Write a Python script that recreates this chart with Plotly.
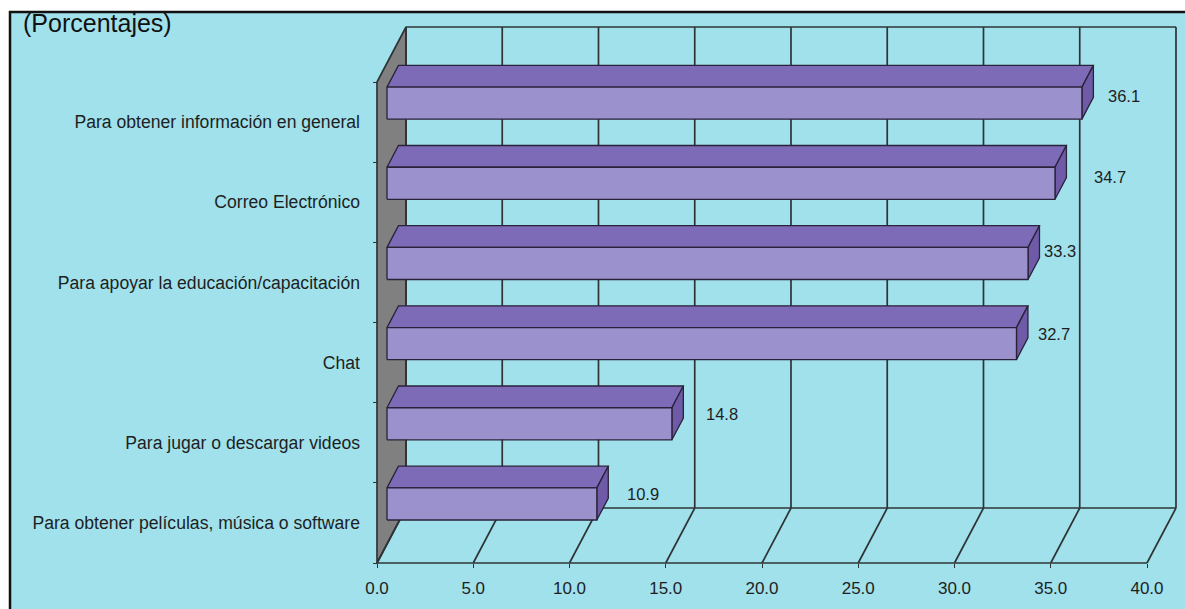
import plotly.graph_objects as go

# ---- data -------------------------------------------------------------
categories = [
    "Para obtener información en general",
    "Correo Electrónico",
    "Para apoyar la educación/capacitación",
    "Chat",
    "Para jugar o descargar videos",
    "Para obtener películas, música o software",
]
values = [36.1, 34.7, 33.3, 32.7, 14.8, 10.9]
x_ticks = [0, 5, 10, 15, 20, 25, 30, 35, 40]
x_tick_labels = ["0.0", "5.0", "10.0", "15.0", "20.0", "25.0", "30.0", "35.0", "40.0"]
title_text = "(Porcentajes)"

# ---- styling ----------------------------------------------------------
BG = "#A0E1EC"
WALL = "#808080"
FRONT = "#9B91CC"
TOP = "#7E6BB8"
SIDE = "#6F5AA8"
EDGE = "#2A2238"
GRID = "#2E3436"
TEXT = "#1E1E1E"
FONT = "Liberation Sans, Arial, Helvetica, sans-serif"

# pseudo-3D depth expressed in axis units
DEPTH_X = 1.506      # horizontal shift of the back plane (value units)
DEPTH_Y = 0.686      # vertical shift of the back plane (category units)
BAR_F1, BAR_F2 = 0.345, 0.74   # front / back of each bar as depth fractions
BAR_HALF = 0.20      # half thickness of a bar (category units)
N = len(categories)
X_MAX = 40

# label offsets (pixels) from the front-right corner of each bar
label_dx = [24, 37, 14, 20, 32, 28]
label_dy = [7, 6, 12, 10, 10, 10]

# ---- plot area geometry -------------------------------------------------
FIG_W, FIG_H = 1185, 609
M_L, M_R, M_T, M_B = 367, 0, 0, 39
PW, PH = FIG_W - M_L - M_R, FIG_H - M_T - M_B
PX_PER_X = 19.25
PX_PER_Y = 481 / 6
x_lo = -10 / PX_PER_X
x_hi = x_lo + PW / PX_PER_X
y_lo = -7 / PX_PER_Y
y_hi = y_lo + PH / PX_PER_Y


def paper_x(px):
    return (px - M_L) / PW


def paper_y(py):
    return (M_T + PH - py) / PH


def depth(x, y, f):
    return x + f * DEPTH_X, y + f * DEPTH_Y


shapes = []

# frame of the whole graphic
shapes.append(dict(type="rect", xref="paper", yref="paper", layer="below",
                   x0=paper_x(10), x1=paper_x(FIG_W + 20),
                   y0=paper_y(FIG_H + 20), y1=paper_y(12),
                   fillcolor=BG, line=dict(color="#111111", width=2.5)))


def line(x0, y0, x1, y1, width=1.7, color=GRID):
    shapes.append(dict(type="line", xref="x", yref="y", layer="below",
                       x0=x0, y0=y0, x1=x1, y1=y1,
                       line=dict(color=color, width=width)))


# left side wall
wall_pts = [(0, 0), (0, N), depth(0, N, 1), depth(0, 0, 1)]
path = "M " + " L ".join(f"{x},{y}" for x, y in wall_pts) + " Z"
shapes.append(dict(type="path", xref="x", yref="y", layer="below", path=path,
                   fillcolor=WALL, line=dict(color=GRID, width=1.7)))

# back wall: vertical grid lines, top and bottom edges
for v in x_ticks:
    bx, by0 = depth(v, 0, 1)
    _, by1 = depth(v, N, 1)
    line(bx, by0, bx, by1)
bx0, by_top = depth(0, N, 1)
bx1, _ = depth(X_MAX, N, 1)
line(bx0, by_top, bx1, by_top)
_, by_bot = depth(0, 0, 1)
line(bx0, by_bot, bx1, by_bot)

# floor: front edge and receding lines
line(0, 0, X_MAX, 0)
for v in x_ticks:
    fx, fy = depth(v, 0, 1)
    line(v, 0, fx, fy)

# ---- bars -------------------------------------------------------------
traces = []


def face(pts, color):
    xs = [p[0] for p in pts] + [pts[0][0]]
    ys = [p[1] for p in pts] + [pts[0][1]]
    traces.append(go.Scatter(x=xs, y=ys, mode="lines", fill="toself",
                             fillcolor=color, line=dict(color=EDGE, width=1.3),
                             hoverinfo="skip", showlegend=False))


annotations = []
for i, (cat, v) in enumerate(zip(categories, values)):
    c = N - 0.5 - i
    yb, yt = c - BAR_HALF, c + BAR_HALF
    fl_b = depth(0, yb, BAR_F1)
    fr_b = depth(v, yb, BAR_F1)
    fr_t = depth(v, yt, BAR_F1)
    fl_t = depth(0, yt, BAR_F1)
    br_b = depth(v, yb, BAR_F2)
    br_t = depth(v, yt, BAR_F2)
    bl_t = depth(0, yt, BAR_F2)
    face([fl_t, fr_t, br_t, bl_t], TOP)
    face([fr_b, br_b, br_t, fr_t], SIDE)
    face([fl_b, fr_b, fr_t, fl_t], FRONT)

    lx, ly = depth(v, c, BAR_F1)
    annotations.append(dict(x=lx, y=ly, xref="x", yref="y", text=f"{v:.1f}",
                            showarrow=False, xanchor="left", yanchor="middle",
                            xshift=label_dx[i], yshift=label_dy[i],
                            font=dict(family=FONT, size=16.5, color=TEXT)))

annotations.append(dict(x=paper_x(21), y=paper_y(7), xref="paper", yref="paper",
                        text=title_text, showarrow=False, xanchor="left",
                        yanchor="top", font=dict(family=FONT, size=25, color="#111111")))

fig = go.Figure(traces)
fig.update_layout(
    width=FIG_W, height=FIG_H,
    margin=dict(l=M_L, r=M_R, t=M_T, b=M_B, pad=0),
    paper_bgcolor="white",
    plot_bgcolor="rgba(0,0,0,0)",
    shapes=shapes,
    annotations=annotations,
    showlegend=False,
    xaxis=dict(range=[x_lo, x_hi], showgrid=False, zeroline=False, showline=False,
               tickvals=x_ticks, ticktext=x_tick_labels, ticks="outside",
               ticklen=4, tickcolor=GRID, tickwidth=1,
               anchor="free", position=paper_y(563),
               tickfont=dict(family=FONT, size=17, color=TEXT),
               ticklabelstandoff=6, fixedrange=True),
    yaxis=dict(range=[y_lo, y_hi], showgrid=False, zeroline=False, showline=False,
               tickvals=[N - 0.5 - i for i in range(N)], ticktext=categories,
               ticks="", anchor="free", position=paper_x(377),
               minor=dict(tickmode="array", tickvals=list(range(N + 1)),
                          ticks="outside", ticklen=4,
                          tickcolor=GRID, tickwidth=1),
               tickfont=dict(family=FONT, size=17.6, color=TEXT),
               ticklabelstandoff=17, fixedrange=True),
)

fig.write_html("out.html")
